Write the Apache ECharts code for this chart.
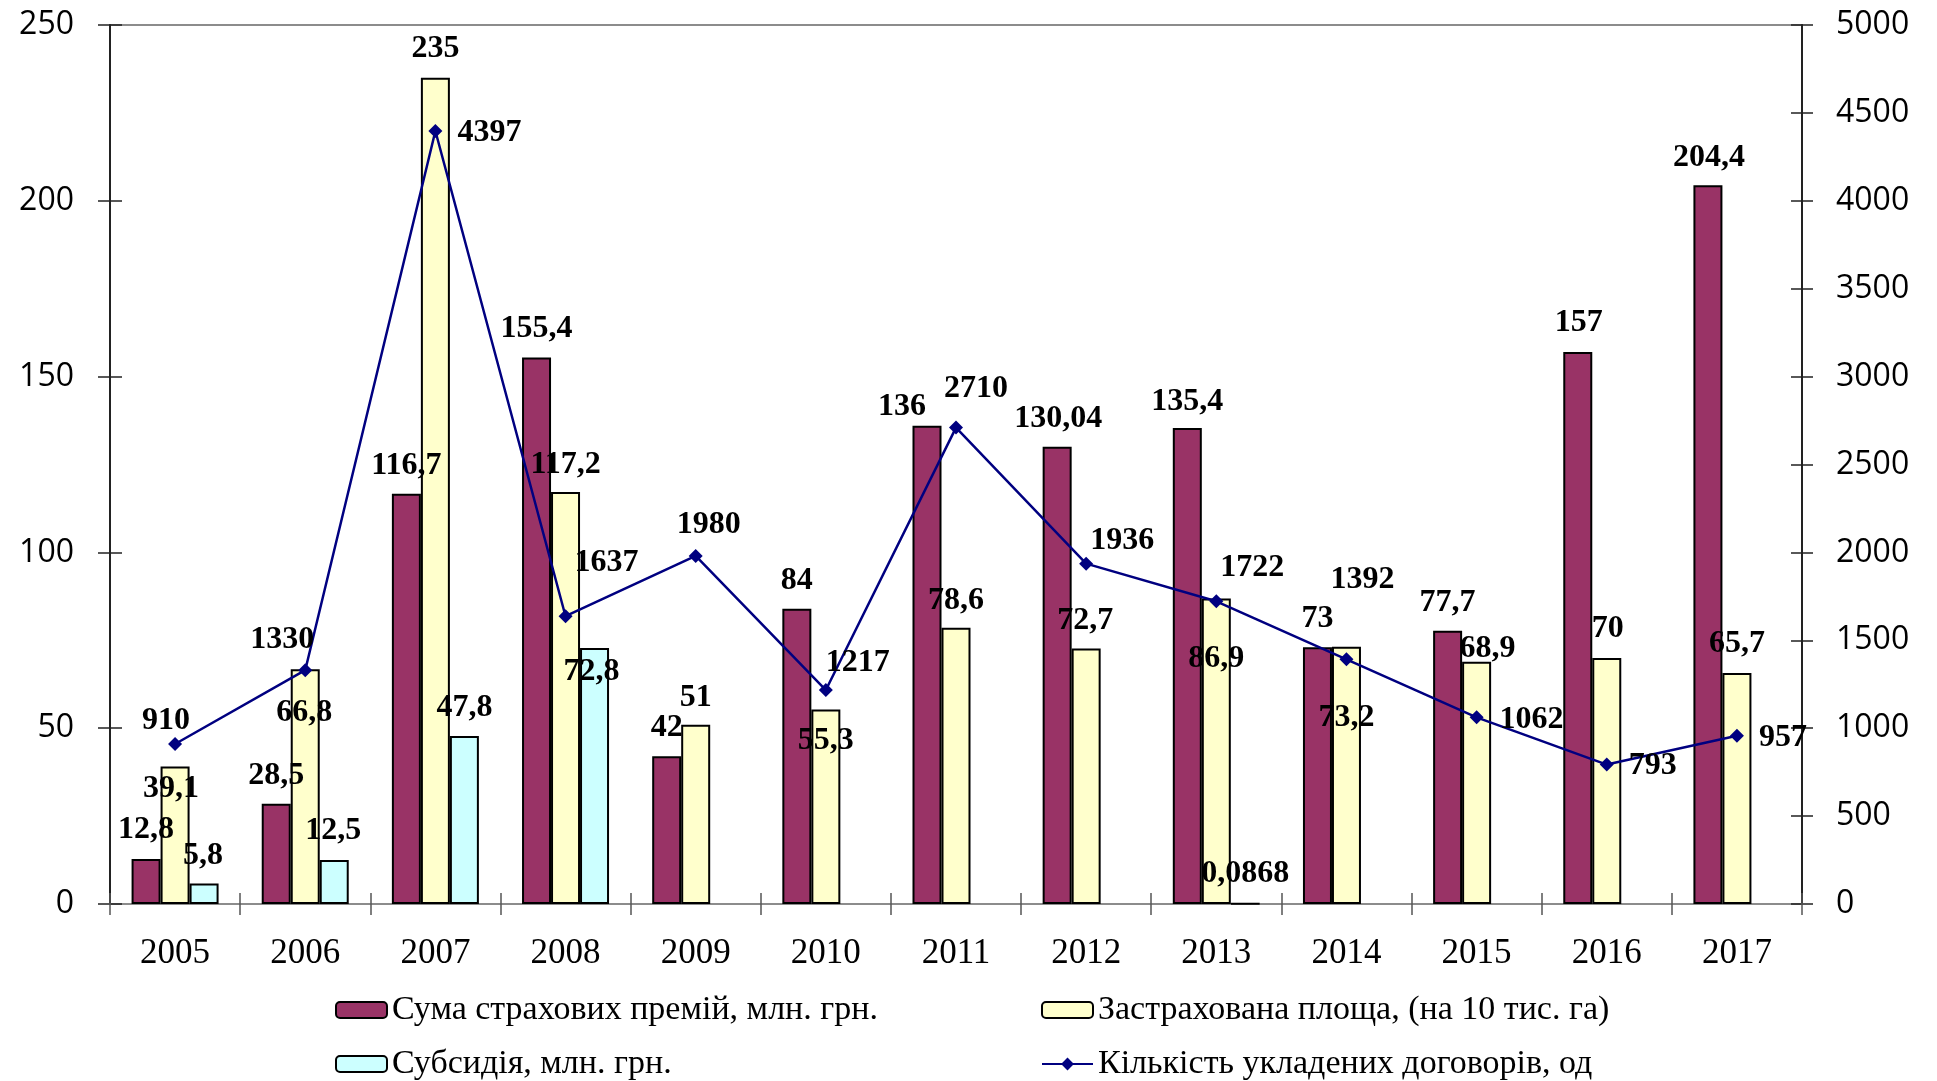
<!DOCTYPE html>
<html>
<head>
<meta charset="utf-8">
<script src="https://cdn.jsdelivr.net/npm/echarts@6/dist/echarts.min.js"></script>
<style>
html,body{margin:0;padding:0;background:#fff;}
#chart{width:1937px;height:1081px;}
</style>
</head>
<body>
<div id="chart"></div>
<script>
// ---- data ----
const years = ['2005','2006','2007','2008','2009','2010','2011','2012','2013','2014','2015','2016','2017'];
const premiums = [12.8, 28.5, 116.7, 155.4, 42, 84, 136, 130.04, 135.4, 73, 77.7, 157, 204.4];
const insuredArea = [39.1, 66.8, 235, 117.2, 51, 55.3, 78.6, 72.7, 86.9, 73.2, 68.9, 70, 65.7];
const subsidy = [5.8, 12.5, 47.8, 72.8, null, null, null, null, 0.0868, null, null, null, null];
const contracts = [910, 1330, 4397, 1637, 1980, 1217, 2710, 1936, 1722, 1392, 1062, 793, 957];
const leftAxis = {min: 0, max: 250, interval: 50};
const rightAxis = {min: 0, max: 5000, interval: 500};
const names = {
  premiums: 'Сума страхових премій, млн. грн.',
  area: 'Застрахована площа, (на 10 тис. га)',
  subsidy: 'Субсидія, млн. грн.',
  contracts: 'Кількість укладених договорів, од'
};

// ---- label placement (style only) ----
const premOff = [[0,-29],[0,-28],[0,-28],[0,-29],[0,-29],[0,-28],[-25,-19],[1,-28],[0,-26],[0,-29],[0,-28],[1,-29],[1,-28]];
const areaOff = [[-4,22],[-1,44],[0,-29],[0,-27],[0,-27],[0,31],[0,-27],[-1,-28],[0,60],[0,71],[11,-13],[1,-29],[0,-29]];
const subOff  = [[-1,-28],[-1,-29],[0,-28],[-3,24],[0,0],[0,0],[0,0],[0,0],[0,-29],[0,0],[0,0],[0,0],[0,0]];
const lineOff = [[-9,-23],[-23,-30],[54,2],[41,-53],[13,-31],[32,-27],[20,-39],[36,-23],[36,-34],[16,-80],[55,2],[46,1],[46,2]];

const fmt = p => String(p.value).replace('.', ',');
const labelFont = {fontFamily: 'Liberation Serif', fontWeight: 'bold', fontSize: 32, color: '#000'};

function items(arr, off) {
  return arr.map((v, i) => v == null ? '-' : ({value: v, label: {offset: off[i]}}));
}
function barSeries(name, arr, off, color) {
  return {
    name: name, type: 'bar', yAxisIndex: 0, barWidth: 29, barGap: '0%',
    itemStyle: {color: color, borderColor: '#000', borderWidth: 2},
    label: Object.assign({show: true, position: ['50%', 0], align: 'center', verticalAlign: 'middle', formatter: fmt}, labelFont),
    data: items(arr, off)
  };
}
function legendItem(name, left, top) {
  return {
    data: [name], left: left, top: top, padding: 0,
    itemWidth: 51, itemHeight: 16,
    textStyle: {fontFamily: 'Liberation Serif', fontSize: 34, color: '#000'}
  };
}

const chart = echarts.init(document.getElementById('chart'), null, {renderer: 'canvas'});
const yLabel = {fontFamily: 'Open Sans', fontSize: 32, color: '#000', formatter: v => String(v)};
const option = {
  animation: false,
  backgroundColor: '#fff',
  grid: {left: 110, right: 135, top: 25, bottom: 177, show: true, borderColor: '#8c8c8c', borderWidth: 2},
  legend: [
    legendItem(names.premiums, 335, 993),
    legendItem(names.area, 1041, 993),
    legendItem(names.subsidy, 335, 1047),
    legendItem(names.contracts, 1041, 1047)
  ],
  xAxis: [
    {
      type: 'category', data: years, position: 'bottom',
      axisLine: {show: true, lineStyle: {color: '#8c8c8c', width: 2}},
      axisTick: {show: true, length: 11, lineStyle: {color: '#555', width: 1.5}},
      axisLabel: {fontFamily: 'Liberation Serif', fontSize: 35, color: '#000', margin: 32}
    },
    {
      type: 'category', data: years, position: 'bottom',
      axisLine: {show: false},
      axisTick: {show: true, inside: true, length: 11, lineStyle: {color: '#555', width: 1.5}},
      axisLabel: {show: false}
    }
  ],
  yAxis: [
    {
      type: 'value', position: 'left', min: leftAxis.min, max: leftAxis.max, interval: leftAxis.interval,
      splitLine: {show: false},
      axisLine: {show: true, lineStyle: {color: '#222', width: 2}},
      axisTick: {show: true, length: 12, lineStyle: {color: '#222', width: 1.5}},
      axisLabel: Object.assign({margin: 36}, yLabel)
    },
    {
      type: 'value', position: 'right', min: rightAxis.min, max: rightAxis.max, interval: rightAxis.interval,
      splitLine: {show: false},
      axisLine: {show: true, lineStyle: {color: '#222', width: 2}},
      axisTick: {show: true, length: 11, lineStyle: {color: '#222', width: 1.5}},
      axisLabel: Object.assign({margin: 34}, yLabel)
    },
    {
      type: 'value', position: 'left', min: leftAxis.min, max: leftAxis.max, interval: leftAxis.interval,
      splitLine: {show: false}, axisLine: {show: false}, axisLabel: {show: false},
      axisTick: {show: true, inside: true, length: 12, lineStyle: {color: '#222', width: 1.5}}
    },
    {
      type: 'value', position: 'right', min: rightAxis.min, max: rightAxis.max, interval: rightAxis.interval,
      splitLine: {show: false}, axisLine: {show: false}, axisLabel: {show: false},
      axisTick: {show: true, inside: true, length: 11, lineStyle: {color: '#222', width: 1.5}}
    }
  ],
  series: [
    barSeries(names.premiums, premiums, premOff, '#993366'),
    barSeries(names.area, insuredArea, areaOff, '#FFFFCC'),
    barSeries(names.subsidy, subsidy, subOff, '#CCFFFF'),
    {
      name: names.contracts, type: 'line', yAxisIndex: 1, z: 5,
      symbol: 'diamond', symbolSize: 14,
      lineStyle: {color: '#000080', width: 2.5},
      itemStyle: {color: '#000080'},
      label: Object.assign({show: true, position: ['50%', '50%'], align: 'center', verticalAlign: 'middle', formatter: fmt}, labelFont),
      data: items(contracts, lineOff)
    }
  ]
};
chart.setOption(option);
</script>
</body>
</html>
